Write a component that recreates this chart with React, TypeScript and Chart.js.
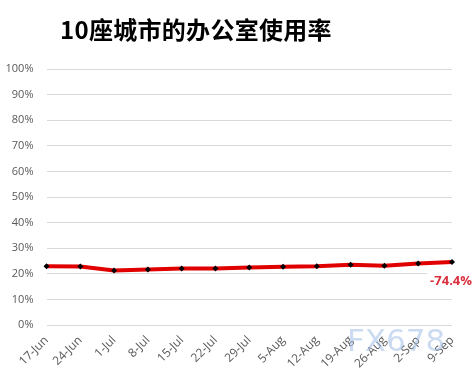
import React, { useEffect, useRef } from "react";
import { Chart, registerables } from "chart.js";

Chart.register(...registerables);

const categories = ["17-Jun", "24-Jun", "1-Jul", "8-Jul", "15-Jul", "22-Jul", "29-Jul", "5-Aug", "12-Aug", "19-Aug", "26-Aug", "2-Sep", "9-Sep"];
const occupancy = [23.0, 22.9, 21.4, 21.7, 22.1, 22.1, 22.5, 22.8, 23.0, 23.6, 23.2, 24.1, 24.7];
const yTicks = [0, 10, 20, 30, 40, 50, 60, 70, 80, 90, 100];
const lastLabel = "-74.4%";
const titleText = "10座城市的办公室使用率";
const watermark = "FX678";

const endLabelPlugin = {
  id: "endLabel",
  afterDatasetsDraw(chart: any) {
    const meta = chart.getDatasetMeta(0);
    const pt = meta.data[meta.data.length - 1];
    if (!pt) return;
    const ctx = chart.ctx;
    ctx.save();
    ctx.font = "bold 13px 'Open Sans', sans-serif";
    const w = ctx.measureText(lastLabel).width;
    const x = pt.x + 20;
    const y = pt.y + 19;
    ctx.fillStyle = "#ffffff";
    ctx.fillRect(x - w - 3, y - 9, w + 6, 18);
    ctx.fillStyle = "#d9303e";
    ctx.textAlign = "right";
    ctx.textBaseline = "middle";
    ctx.fillText(lastLabel, x, y);
    ctx.restore();
  },
};

export default function App() {
  const ref = useRef<HTMLCanvasElement>(null);
  useEffect(() => {
    document.body.style.margin = "0";
    const chart = new Chart(ref.current!, {
      type: "line",
      data: {
        labels: categories,
        datasets: [
          {
            data: occupancy,
            borderColor: "#e00000",
            borderWidth: 4,
            tension: 0,
            pointStyle: "rectRot",
            pointRadius: 3,
            pointBackgroundColor: "#000000",
            pointBorderColor: "#000000",
            pointBorderWidth: 0,
          },
        ],
      },
      options: {
        animation: false,
        responsive: false,
        layout: { padding: { top: 69, left: 4, right: 21, bottom: 4 } },
        plugins: { legend: { display: false }, tooltip: { enabled: false } },
        scales: {
          x: {
            offset: false,
            grid: { display: false },
            border: { display: false },
            afterFit: (s: any) => {
              s.paddingLeft = 0;
              s.paddingRight = 0;
            },
            ticks: {
              maxRotation: 45,
              minRotation: 45,
              color: "#595959",
              font: { family: "'Open Sans', sans-serif", size: 12 },
              padding: 0,
              autoSkip: false,
            },
          },
          y: {
            min: 0,
            max: 100,
            afterBuildTicks: (axis: any) => {
              axis.ticks = yTicks.map((v) => ({ value: v }));
            },
            afterFit: (s: any) => {
              s.width = 42.5;
            },
            grid: { color: "#d9d9d9", drawTicks: false },
            border: { display: false },
            ticks: {
              color: "#595959",
              font: { family: "'Open Sans', sans-serif", size: 11 },
              padding: 13,
              callback: (v: any) => v + "%",
            },
          },
        },
      },
      plugins: [endLabelPlugin],
    });
    return () => chart.destroy();
  }, []);
  return (
    <div style={{ position: "relative", width: 473, height: 375, background: "#fff", overflow: "hidden" }}>
      <canvas ref={ref} width={473} height={375} style={{ position: "absolute", left: 0, top: 0 }} />
      <div
        style={{
          position: "absolute",
          left: 60,
          top: 12,
          fontFamily: "'Noto Sans CJK SC', serif",
          fontWeight: 700,
          fontSize: 24,
          letterSpacing: 0.3,
          color: "#000",
          whiteSpace: "nowrap",
          lineHeight: "34px",
        }}
      >
        {titleText}
      </div>
      <div
        style={{
          position: "absolute",
          left: 347,
          top: 320,
          fontFamily: "'DejaVu Sans', sans-serif",
          fontSize: 31,
          color: "rgba(160,190,230,0.55)",
          whiteSpace: "nowrap",
          lineHeight: "40px",
          letterSpacing: 0,
        }}
      >
        {watermark}
      </div>
    </div>
  );
}
